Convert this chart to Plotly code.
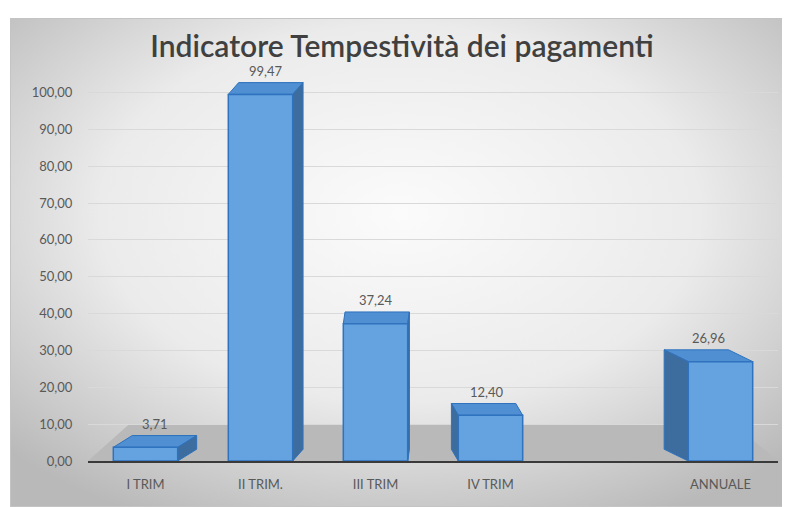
import base64
import plotly.graph_objects as go

# ---- data ----
categories = ["I TRIM", "II TRIM.", "III TRIM", "IV TRIM", "ANNUALE"]
values = [3.71, 99.47, 37.24, 12.40, 26.96]
slots = [0, 1, 2, 3, 5]          # category slots (slot 4 left empty, as in the original)
y_ticks = [0, 10, 20, 30, 40, 50, 60, 70, 80, 90, 100]

# ---- style ----
FONT = "Lato"
TXT = "#595959"
FRONT = "#64a2e0"
EDGE = "#2f72bd"
TOP = "#4f8fd2"
SIDE = "#3d6d9f"
W = 0.28          # half bar width in slot units
DY = 3.2          # depth rise in value units
VP = 2.2          # vanishing slot for side faces

# page has an 8px body margin; figure is sized so it ends at the window edge
OFF = 8
FW, FH = 790 - OFF, 507 - OFF

fig = go.Figure()
fig.add_trace(go.Bar(
    x=slots, y=values, width=2 * W,
    marker=dict(color=FRONT, line=dict(color=EDGE, width=1.5)),
    hoverinfo="skip", showlegend=False,
))

shapes = []
# floor
shapes.append(dict(type="path", xref="x", yref="y", layer="between",
                   path="M -0.5,0 L 5.5,0 L 5.12,9.8 L -0.15,9.8 Z",
                   fillcolor="#b9b9b9", line=dict(width=0)))

annotations = []
for s, v in zip(slots, values):
    dx = 0.075 * (VP - s)
    # top face
    shapes.append(dict(type="path", xref="x", yref="y", layer="between",
                       path=f"M {s-W},{v} L {s+W},{v} L {s+W+dx},{v+DY} L {s-W+dx},{v+DY} Z",
                       fillcolor=TOP, line=dict(color=EDGE, width=1)))
    # side face
    xe = s + W if dx > 0 else s - W
    shapes.append(dict(type="path", xref="x", yref="y", layer="between",
                       path=f"M {xe},0 L {xe},{v} L {xe+dx},{v+DY} L {xe+dx},{DY} Z",
                       fillcolor=SIDE, line=dict(color=EDGE, width=1)))
    annotations.append(dict(x=s + dx / 2, y=v + DY, xref="x", yref="y",
                            text=f"{v:.2f}".replace(".", ","), showarrow=False,
                            yanchor="bottom", yshift=2,
                            font=dict(family=FONT, size=13, color=TXT)))

# background panel with radial gradient
BW, BH = 780, 489
svg = (f'<svg xmlns="http://www.w3.org/2000/svg" width="{BW}" height="{BH}" viewBox="0 0 {BW} {BH}" '
       'preserveAspectRatio="none"><defs><radialGradient id="g" cx="50%" cy="40%" r="70%">'
       '<stop offset="0" stop-color="#fbfbfb"/><stop offset="0.55" stop-color="#ebebeb"/>'
       '<stop offset="1" stop-color="#b9b9b9"/></radialGradient></defs>'
       f'<rect x="0.5" y="0.5" width="{BW-1}" height="{BH-1}" fill="url(#g)" stroke="#c4c4c4" stroke-width="1"/></svg>')
src = "data:image/svg+xml;base64," + base64.b64encode(svg.encode()).decode()

# plot area in window pixels: x 88..778, zero line at y=461, top (105) at y=74
L = 88 - OFF
R = 790 - 778
T = 74 - OFF
B = 507 - 461
PW, PH = FW - L - R, FH - T - B
BX0, BY0 = 10 - OFF, 18 - OFF
fig.add_layout_image(dict(source=src, xref="paper", yref="paper",
                          x=(BX0 - L) / PW, y=(FH - B - BY0) / PH,
                          sizex=BW / PW, sizey=BH / PH,
                          xanchor="left", yanchor="top", sizing="stretch", layer="below"))

fig.update_layout(
    width=FW, height=FH,
    margin=dict(l=L, r=R, t=T, b=B),
    paper_bgcolor="white", plot_bgcolor="rgba(0,0,0,0)",
    separators=",.",
    title=dict(text="Indicatore Tempestività dei pagamenti", x=(402 - OFF) / FW, xanchor="center",
               y=1 - (46 - OFF) / FH, yanchor="middle", yref="container",
               font=dict(family=FONT, size=30, color="#404040", weight=600)),
    shapes=shapes, annotations=annotations,
    xaxis=dict(range=[-0.5, 5.5], tickvals=slots, ticktext=categories,
               showgrid=False, zeroline=False, showline=True, linecolor="#3a3a3a", linewidth=2,
               ticks="outside", ticklen=10, tickcolor="rgba(0,0,0,0)",
               tickfont=dict(family=FONT, size=13, color=TXT)),
    yaxis=dict(range=[0, 105], tickvals=y_ticks, tickformat=",.2f",
               showgrid=True, gridcolor="#d9d9d9", gridwidth=1, zeroline=False, showline=False,
               ticks="outside", ticklen=12, tickcolor="rgba(0,0,0,0)",
               tickfont=dict(family=FONT, size=13, color=TXT)),
    bargap=0.4,
)

fig.write_html("out.html")
